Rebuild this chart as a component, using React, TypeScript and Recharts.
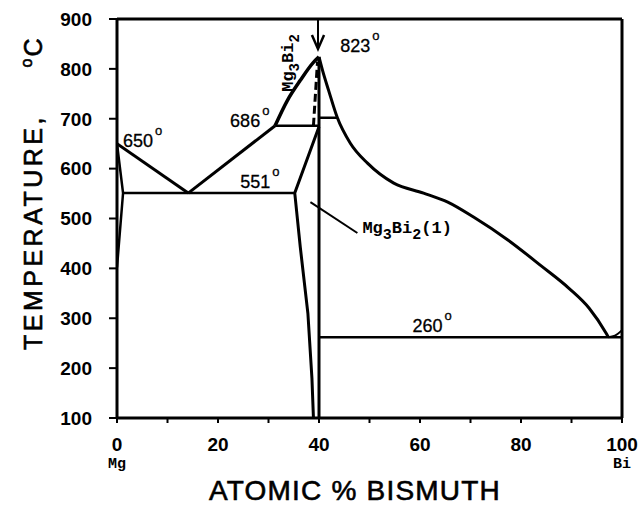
import React from 'react';
import { LineChart, Line, XAxis, YAxis, ReferenceLine, ReferenceDot, Label } from 'recharts';

// ---- axis ticks ----
const xTicks = [0, 10, 20, 30, 40, 50, 60, 70, 80, 90, 100];
const xLabelled = [0, 20, 40, 60, 80, 100];
const yTicks = [100, 200, 300, 400, 500, 600, 700, 800, 900];
const endLabels: Record<number, string> = { 0: 'Mg', 100: 'Bi' };

// ---- phase boundaries (x = atomic % Bi, y = temperature °C) ----
const mgLiquidus = [{ x: 0, y: 650 }, { x: 14.1, y: 551 }];
const mgSolidus = [{ x: 0, y: 650 }, { x: 1.2, y: 551 }, { x: 0, y: 402 }];
const eutectic551 = [{ x: 1.2, y: 551 }, { x: 35.2, y: 551 }];
const liquidusMid = [{ x: 14.1, y: 551 }, { x: 31.3, y: 686 }];
const liquidusPeakLeft = [
  { x: 31.3, y: 686 }, { x: 33.7, y: 736 }, { x: 36.3, y: 777 }, { x: 38.9, y: 813 }, { x: 40, y: 824 },
];
const liquidusRight = [
  { x: 40, y: 824 }, { x: 40.7, y: 797 }, { x: 41.9, y: 757 }, { x: 43.6, y: 703 }, { x: 46.2, y: 651 },
  { x: 49.6, y: 611 }, { x: 54.8, y: 571 }, { x: 60.7, y: 551 }, { x: 65.5, y: 533 }, { x: 70.6, y: 503 },
  { x: 77.4, y: 457 }, { x: 84, y: 405 }, { x: 89.5, y: 360 }, { x: 93.5, y: 320 }, { x: 96.8, y: 271 },
  { x: 97.3, y: 262 },
];
const biSide = [{ x: 97.3, y: 262 }, { x: 98.6, y: 265 }, { x: 100, y: 276 }];
const tie686 = [{ x: 31.3, y: 686 }, { x: 40, y: 686 }];
const tie700 = [{ x: 40, y: 702 }, { x: 43.6, y: 702 }];
const compoundLine = [{ x: 40, y: 824 }, { x: 40, y: 100 }];
const betaBoundary = [
  { x: 40, y: 684 }, { x: 35.2, y: 551 }, { x: 36.3, y: 442 }, { x: 37.8, y: 310 }, { x: 38.6, y: 180 }, { x: 38.9, y: 100 },
];
const dashedBoundary = [{ x: 38.9, y: 686 }, { x: 39.7, y: 814 }];
const eutectic260 = [{ x: 40, y: 262 }, { x: 100, y: 262 }];
const arrowShaft = [{ x: 39.8, y: 900 }, { x: 39.8, y: 842 }];
const arrowHead = [{ x: 38.6, y: 868 }, { x: 39.8, y: 840 }, { x: 41.0, y: 868 }];
const leader = [{ x: 38.3, y: 533 }, { x: 47.6, y: 471 }];

// ---- annotations ----
const tempLabels = [
  { x: 1.2, y: 643, text: '650' },
  { x: 22.4, y: 683, text: '686' },
  { x: 24.4, y: 561, text: '551' },
  { x: 44.2, y: 834, text: '823' },
  { x: 58.5, y: 272, text: '260' },
];
const liquidPhaseLabel = { x: 48.6, y: 471 };
const compoundLabel = { x: 34.9, y: 754 };

const SANS = 'Liberation Sans, Arial, sans-serif';
const MONO = 'Liberation Mono, Courier New, monospace';

const XTick = (props: any) => {
  const { x, y, payload } = props;
  const v = payload.value;
  if (!xLabelled.includes(v)) return null;
  return (
    <g>
      <text x={x} y={y} dy="0.71em" textAnchor="middle" fontFamily={SANS} fontWeight="bold" fontSize={19} fill="#000">
        {v}
      </text>
      {endLabels[v] && (
        <text x={x} y={y + 30} textAnchor="middle" fontFamily={MONO} fontWeight="bold" fontSize={15} fill="#000">
          {endLabels[v]}
        </text>
      )}
    </g>
  );
};

const YTick = (props: any) => {
  const { x, y, payload } = props;
  return (
    <text x={x} y={y} dy="0.36em" textAnchor="end" fontFamily={SANS} fontWeight="bold" fontSize={19} fill="#000">
      {payload.value}
    </text>
  );
};

const DegText = (text: string) => (props: any) => (
  <text x={props.cx} y={props.cy} fontFamily={SANS} fontSize={18} fill="#000" stroke="#000" strokeWidth={0.3}>
    {text}
    <tspan dx={2} dy={-12} fontSize={13}>o</tspan>
  </text>
);

const LiquidLabel = (props: any) => (
  <text x={props.cx} y={props.cy} fontFamily={MONO} fontWeight="bold" fontSize={17} fill="#000">
    Mg<tspan dy={6} fontSize={15}>3</tspan>
    <tspan dy={-6} fontSize={17}>Bi</tspan>
    <tspan dy={6} fontSize={15}>2</tspan>
    <tspan dy={-6} fontSize={17}>(1)</tspan>
  </text>
);

const CompoundLabel = (props: any) => (
  <text
    transform={`translate(${props.cx},${props.cy}) rotate(-90)`}
    fontFamily={MONO}
    fontWeight="bold"
    fontSize={17}
    fill="#000"
  >
    Mg<tspan dy={6} fontSize={14}>3</tspan>
    <tspan dy={-6} fontSize={17}>Bi</tspan>
    <tspan dy={6} fontSize={14}>2</tspan>
  </text>
);

const YTitle = () => (
  <g>
    <text
      transform="translate(42,232) rotate(-90)"
      textAnchor="middle"
      fontFamily={SANS}
      fontSize={25}
      letterSpacing={3.5}
      fill="#000"
      stroke="#000"
      strokeWidth={0.6}
    >
      TEMPERATURE,
    </text>
    <text
      transform="translate(42,53) rotate(-90)"
      textAnchor="middle"
      fontFamily={SANS}
      fontSize={25}
      fill="#000"
      stroke="#000"
      strokeWidth={0.6}
    >
      <tspan fontSize={16} dy={-10}>o</tspan>
      <tspan dy={10} dx={2}>C</tspan>
    </text>
  </g>
);

const XTitle = () => (
  <text
    x={355}
    y={500}
    textAnchor="middle"
    fontFamily={SANS}
    fontSize={28}
    letterSpacing={1.2}
    fill="#000"
    stroke="#000"
    strokeWidth={0.6}
  >
    ATOMIC % BISMUTH
  </text>
);

const solid = { stroke: '#000', strokeWidth: 3, dot: false, isAnimationActive: false, type: 'linear' as const };

export default function App() {
  return (
    <div style={{ position: 'absolute', left: 0, top: 0, background: '#fff' }}>
      <LineChart width={640} height={505} margin={{ top: 19, right: 18, left: 0, bottom: 0 }}>
        <XAxis
          dataKey="x"
          type="number"
          domain={[0, 100]}
          ticks={xTicks}
          interval={0}
          allowDataOverflow
          height={87}
          tickSize={5}
          tickMargin={15}
          axisLine={{ stroke: '#000', strokeWidth: 3 }}
          tickLine={{ stroke: '#000', strokeWidth: 2 }}
          tick={<XTick />}
        >
          <Label content={<XTitle />} />
        </XAxis>
        <YAxis
          dataKey="y"
          type="number"
          domain={[100, 900]}
          ticks={yTicks}
          interval={0}
          allowDataOverflow
          width={117}
          tickSize={8}
          tickMargin={17}
          axisLine={{ stroke: '#000', strokeWidth: 3 }}
          tickLine={{ stroke: '#000', strokeWidth: 2 }}
          tick={<YTick />}
        >
          <Label content={<YTitle />} />
        </YAxis>
        <ReferenceLine y={900} stroke="#000" strokeWidth={3} />
        <ReferenceLine x={100} stroke="#000" strokeWidth={3} />

        <Line data={mgLiquidus} dataKey="y" {...solid} />
        <Line data={mgSolidus} dataKey="y" {...solid} strokeWidth={2.5} />
        <Line data={eutectic551} dataKey="y" {...solid} strokeWidth={2.5} />
        <Line data={liquidusMid} dataKey="y" {...solid} />
        <Line data={liquidusPeakLeft} dataKey="y" {...solid} type="monotone" strokeWidth={3.5} />
        <Line data={liquidusRight} dataKey="y" {...solid} type="monotone" />
        <Line data={biSide} dataKey="y" {...solid} type="monotone" strokeWidth={2} />
        <Line data={tie686} dataKey="y" {...solid} strokeWidth={2.5} />
        <Line data={tie700} dataKey="y" {...solid} strokeWidth={2.5} />
        <Line data={compoundLine} dataKey="y" {...solid} />
        <Line data={betaBoundary} dataKey="y" {...solid} />
        <Line data={dashedBoundary} dataKey="y" {...solid} strokeWidth={3} strokeDasharray="8 4" />
        <Line data={eutectic260} dataKey="y" {...solid} strokeWidth={2.5} />
        <Line data={arrowShaft} dataKey="y" {...solid} strokeWidth={2} />
        <Line data={arrowHead} dataKey="y" {...solid} strokeWidth={2.5} />
        <Line data={leader} dataKey="y" {...solid} strokeWidth={2} />

        {tempLabels.map((l) => (
          <ReferenceDot key={l.text} x={l.x} y={l.y} r={0} shape={DegText(l.text)} />
        ))}
        <ReferenceDot x={liquidPhaseLabel.x} y={liquidPhaseLabel.y} r={0} shape={LiquidLabel} />
        <ReferenceDot x={compoundLabel.x} y={compoundLabel.y} r={0} shape={CompoundLabel} />
      </LineChart>
    </div>
  );
}
